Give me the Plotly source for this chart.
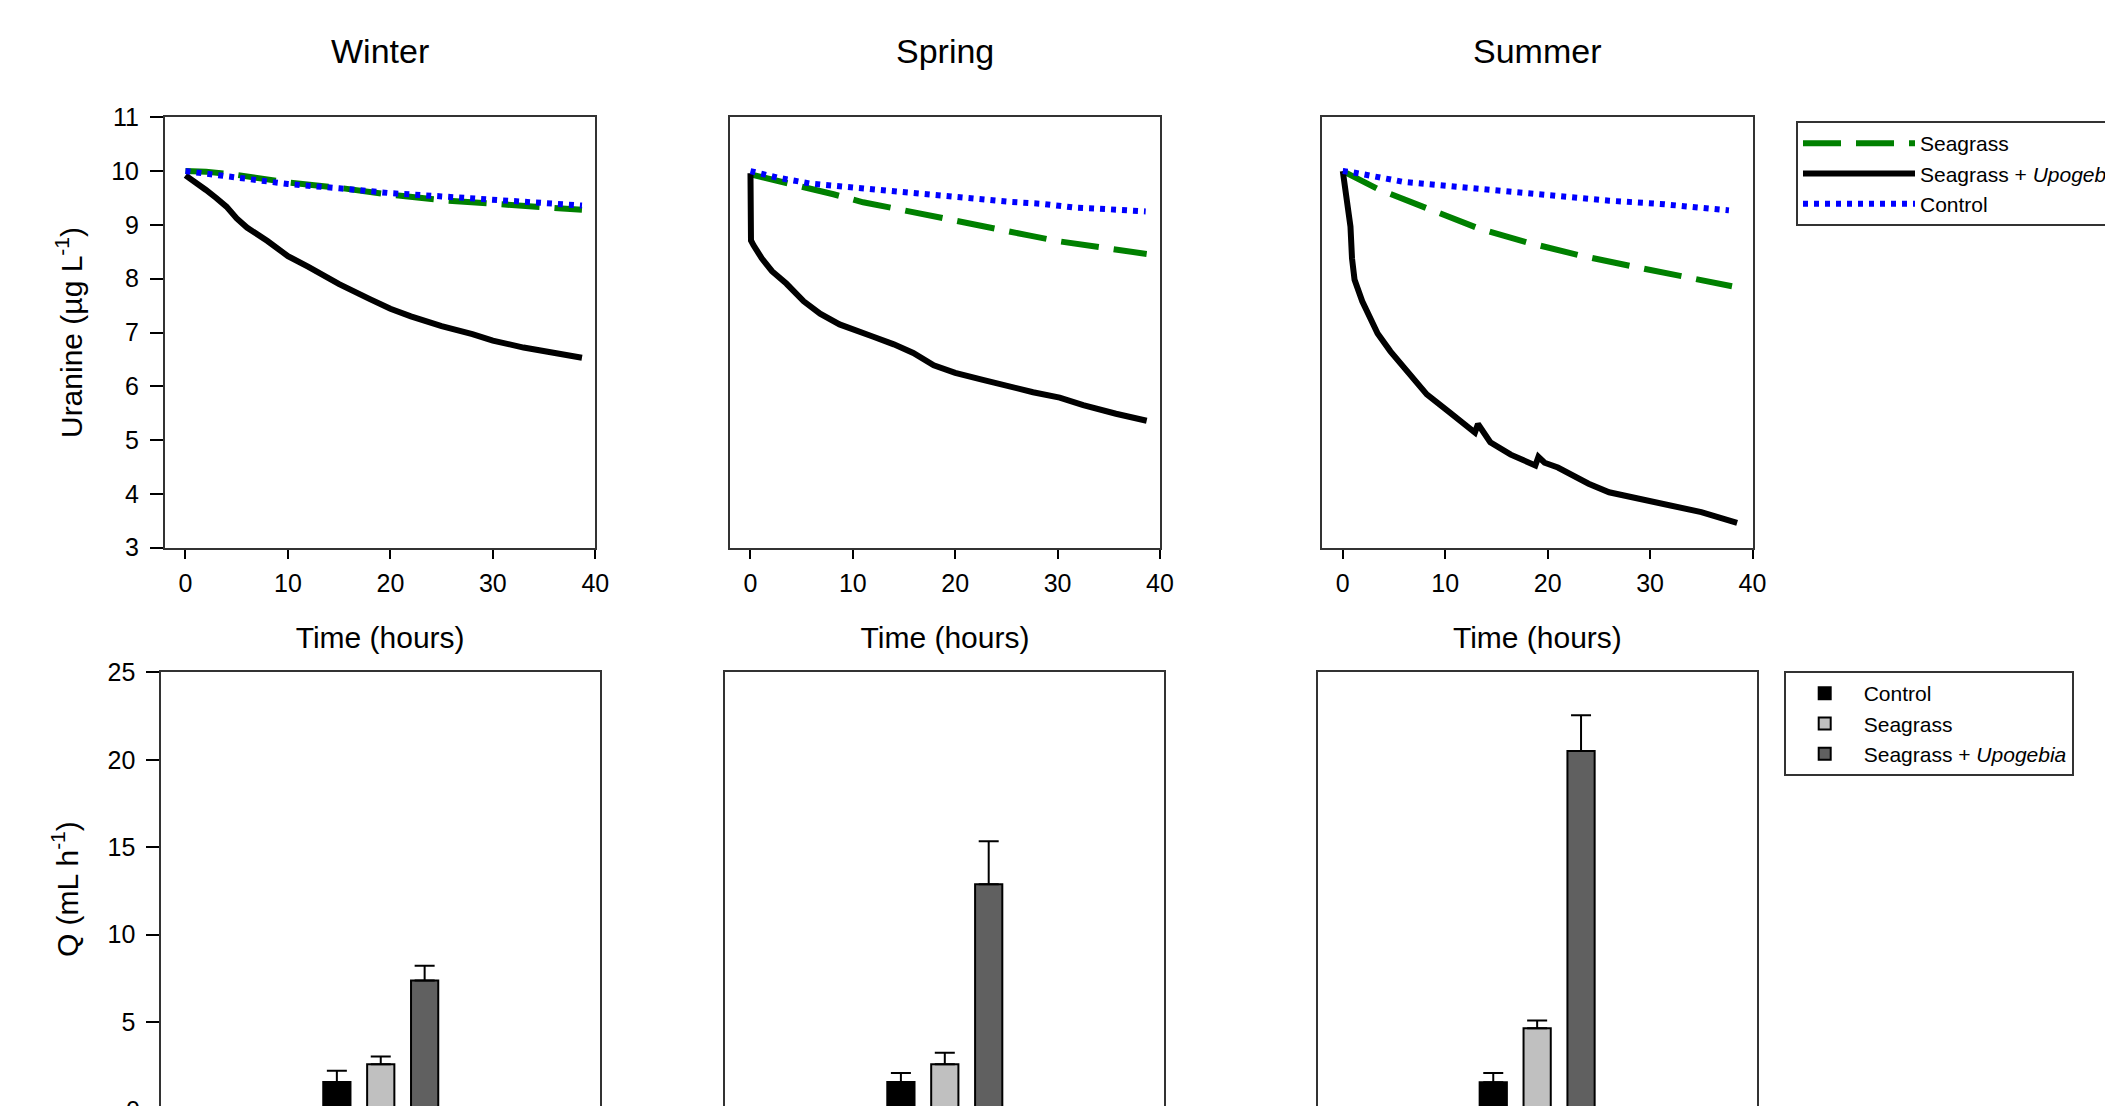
import plotly.graph_objects as go

W, H = 2105, 1106
FONT = "Liberation Sans, Arial, sans-serif"

seasons = ["Winter", "Spring", "Summer"]

# ---------------- Uranine concentration (µg L-1) vs time (hours) ----------------
winter_seagrass_t = [0, 2, 5, 10, 15, 20, 25, 30, 35, 38.7]
winter_seagrass_y = [10.0, 9.99, 9.93, 9.79, 9.69, 9.56, 9.46, 9.39, 9.33, 9.28]
winter_upo_t = [0, 1, 2, 3, 4, 5, 6, 8, 10, 12, 15, 18, 20, 22, 25, 28, 30, 33, 35, 38.7]
winter_upo_y = [9.92, 9.80, 9.65, 9.50, 9.34, 9.12, 8.95, 8.70, 8.42, 8.22, 7.90, 7.62, 7.44, 7.30, 7.12, 6.97, 6.85, 6.72, 6.65, 6.53]
winter_control_t = [0, 5, 10, 15, 20, 25, 30, 35, 38.7]
winter_control_y = [10.0, 9.87, 9.76, 9.68, 9.59, 9.53, 9.46, 9.41, 9.36]

spring_seagrass_t = [0, 2, 4.8, 8.1, 11, 14.5, 18, 21.3, 24.3, 27.3, 30.3, 32.6, 35.2, 38.7]
spring_seagrass_y = [9.94, 9.84, 9.72, 9.57, 9.42, 9.29, 9.15, 9.03, 8.91, 8.80, 8.69, 8.63, 8.56, 8.46]
spring_upo_t = [0, 0.05, 0.3, 1.1, 2.1, 3.5, 5.2, 6.8, 8.7, 10.4, 12, 14, 15.9, 17.9, 20, 22.7, 25.3, 27.6, 30.2, 32.5, 35.7, 38.7]
spring_upo_y = [9.96, 8.71, 8.62, 8.38, 8.14, 7.91, 7.58, 7.35, 7.15, 7.02, 6.92, 6.78, 6.62, 6.39, 6.25, 6.12, 5.99, 5.89, 5.79, 5.65, 5.49, 5.36]
spring_control_t = [0, 2.6, 5.8, 9.1, 12.3, 15.6, 18.8, 22.1, 25.3, 28.6, 31.8, 35.1, 38.6]
spring_control_y = [10.0, 9.88, 9.77, 9.71, 9.65, 9.59, 9.54, 9.47, 9.43, 9.39, 9.32, 9.29, 9.25]

summer_seagrass_t = [0, 3.4, 8.2, 13.2, 17.9, 23, 28, 33, 38]
summer_seagrass_y = [10.0, 9.67, 9.31, 8.94, 8.68, 8.44, 8.24, 8.05, 7.86]
summer_upo_t = [0, 0.4, 0.75, 0.9, 1.15, 1.9, 2.65, 3.4, 4.65, 6.4, 8.2, 10.4, 12.4, 12.9, 13.2, 14.4,
                16.4, 18.8, 19.1, 19.7, 21, 24, 26, 30, 32, 35, 38.5]
summer_upo_y = [10.0, 9.51, 8.97, 8.38, 7.98, 7.58, 7.25, 6.98, 6.65, 6.25, 5.85, 5.52, 5.24, 5.14, 5.30, 4.96,
                4.73, 4.53, 4.69, 4.58, 4.49, 4.19, 4.03, 3.86, 3.80, 3.66, 3.46]
summer_control_t = [0, 0.9, 5.9, 10.9, 15.9, 21, 26, 31, 36, 37.7]
summer_control_y = [10.0, 9.98, 9.80, 9.71, 9.61, 9.53, 9.45, 9.39, 9.32, 9.27]

# ---------------- Flow Q (mL h-1) ----------------
bar_categories = ["Control", "Seagrass", "Seagrass + <i>Upogebia</i>"]
q_winter = [1.58, 2.59, 7.39]
q_winter_err = [0.65, 0.45, 0.84]
q_spring = [1.58, 2.59, 12.88]
q_spring_err = [0.52, 0.67, 2.47]
q_summer = [1.57, 4.65, 20.5]
q_summer_err = [0.52, 0.44, 2.05]

x_ticks = [0, 10, 20, 30, 40]
uranine_ticks = [3, 4, 5, 6, 7, 8, 9, 10, 11]
q_ticks = [0, 5, 10, 15, 20, 25]

series = [
    (winter_seagrass_t, winter_seagrass_y, winter_upo_t, winter_upo_y, winter_control_t, winter_control_y),
    (spring_seagrass_t, spring_seagrass_y, spring_upo_t, spring_upo_y, spring_control_t, spring_control_y),
    (summer_seagrass_t, summer_seagrass_y, summer_upo_t, summer_upo_y, summer_control_t, summer_control_y),
]
bars = [(q_winter, q_winter_err), (q_spring, q_spring_err), (q_summer, q_summer_err)]

GREEN, BLACK, BLUE = "#008000", "#000000", "#0000ff"
BAR_COLORS = ["#000000", "#c0c0c0", "#606060"]

# ---------------- layout geometry (pixels) ----------------
top_px = [(165, 595.3), (730, 1160), (1322.3, 1752.5)]
bot_px = [(161.3, 600.2), (725.3, 1164.3), (1317.7, 1756.6)]
top_y_px = (117.3, 547.7)
bot_y_px = (672.3, 1106)

def xd(a, b):
    return [a / W, b / W]

def yd(top, bottom):
    return [max(0, 1 - bottom / H), 1 - top / H]

fig = go.Figure()

line_names = ["Seagrass", "Seagrass + <i>Upogebia</i>", "Control"]
line_styles = [
    dict(color=GREEN, width=6, dash="38px,15px"),
    dict(color=BLACK, width=6),
    dict(color=BLUE, width=6, dash="5px,6px"),
]

for i, s in enumerate(series):
    xa = "x" if i == 0 else f"x{i+1}"
    ya = "y" if i == 0 else f"y{i+1}"
    pairs = [(s[0], s[1]), (s[2], s[3]), (s[4], s[5])]
    for j, (t, v) in enumerate(pairs):
        fig.add_trace(go.Scatter(
            x=t, y=v, mode="lines", name=line_names[j], line=line_styles[j],
            xaxis=xa, yaxis=ya, legend="legend", legendgroup=f"l{j}",
            showlegend=(i == 0),
        ))

for i, (vals, errs) in enumerate(bars):
    xa = f"x{i+4}"
    ya = f"y{i+4}"
    for j, cat in enumerate(bar_categories):
        fig.add_trace(go.Bar(
            x=[cat], y=[vals[j]], name=cat, width=0.62,
            marker=dict(color=BAR_COLORS[j], line=dict(color="black", width=2)),
            error_y=dict(type="data", array=[errs[j]], arrayminus=[0], symmetric=False,
                         color="black", thickness=2, width=10),
            xaxis=xa, yaxis=ya, legend="legend2", legendgroup=f"b{j}",
            showlegend=(i == 0),
        ))

def base_axis(**kw):
    d = dict(showline=True, mirror=True, linecolor="#333333", linewidth=2,
             showgrid=False, zeroline=False, ticks="outside", tickcolor="black",
             tickwidth=2, tickfont=dict(size=25, color="black", family=FONT))
    d.update(kw)
    return d

layout = {}
for i in range(3):
    xn = "xaxis" if i == 0 else f"xaxis{i+1}"
    yn = "yaxis" if i == 0 else f"yaxis{i+1}"
    ya = "y" if i == 0 else f"y{i+1}"
    xa = "x" if i == 0 else f"x{i+1}"
    layout[xn] = base_axis(domain=xd(*top_px[i]), anchor=ya, range=[-2, 40],
                           tickvals=x_ticks, ticklen=9, ticklabelstandoff=3,
                           title=dict(text="Time (hours)", font=dict(size=30, color="black", family=FONT),
                                      standoff=31))
    if i == 0:
        layout[yn] = base_axis(domain=yd(*top_y_px), anchor=xa, range=[3, 11],
                               tickvals=uranine_ticks, ticklen=13, ticklabelstandoff=6,
                               title=dict(text="Uranine (µg L<sup>-1</sup>)",
                                          font=dict(size=30, color="black", family=FONT), standoff=20))
    else:
        layout[yn] = base_axis(domain=yd(*top_y_px), anchor=xa, range=[3, 11],
                               ticks="", showticklabels=False)
for i in range(3):
    xn = f"xaxis{i+4}"
    yn = f"yaxis{i+4}"
    layout[xn] = base_axis(domain=xd(*bot_px[i]), anchor=f"y{i+4}", type="category",
                           categoryorder="array", categoryarray=bar_categories,
                           range=[-4, 6], ticks="", showticklabels=False)
    if i == 0:
        layout[yn] = base_axis(domain=yd(*bot_y_px), anchor=f"x{i+4}", range=[0.21, 25],
                               tickvals=q_ticks, ticklen=13, ticklabelstandoff=6,
                               title=dict(text="Q (mL h<sup>-1</sup>)",
                                          font=dict(size=30, color="black", family=FONT), standoff=20))
    else:
        layout[yn] = base_axis(domain=yd(*bot_y_px), anchor=f"x{i+4}", range=[0.21, 25],
                               ticks="", showticklabels=False)

annotations = []
for i, name in enumerate(seasons):
    cx = (top_px[i][0] + top_px[i][1]) / 2 / W
    annotations.append(dict(text=name, x=cx, y=1 - 51 / H, xref="paper", yref="paper",
                            xanchor="center", yanchor="middle", showarrow=False,
                            font=dict(size=34, color="black", family=FONT)))
# partially visible "0" tick label of the lower-left axis (its tick lies just below the page edge)
annotations.append(dict(text="0", x=(161.3 - 19) / W, y=1 - 1109.7 / H, xref="paper", yref="paper",
                        xanchor="right", yanchor="middle", showarrow=False,
                        font=dict(size=25, color="black", family=FONT)))

fig.update_layout(
    width=W, height=H,
    margin=dict(l=0, r=0, t=0, b=0, autoexpand=False),
    paper_bgcolor="white", plot_bgcolor="white",
    font=dict(family=FONT, color="black"),
    barmode="overlay",
    annotations=annotations,
    legend=dict(x=1796 / W, y=1 - 121 / H, xanchor="left", yanchor="top",
                bordercolor="#333333", borderwidth=2, bgcolor="white",
                font=dict(size=21, color="black", family=FONT), itemwidth=112,
                traceorder="normal", tracegroupgap=0),
    legend2=dict(x=1783.7 / W, y=1 - 671 / H, xanchor="left", yanchor="top",
                 bordercolor="#333333", borderwidth=2, bgcolor="white",
                 font=dict(size=21, color="black", family=FONT), itemwidth=68,
                 traceorder="normal", tracegroupgap=0),
    **layout,
)

fig.write_html("out.html")
